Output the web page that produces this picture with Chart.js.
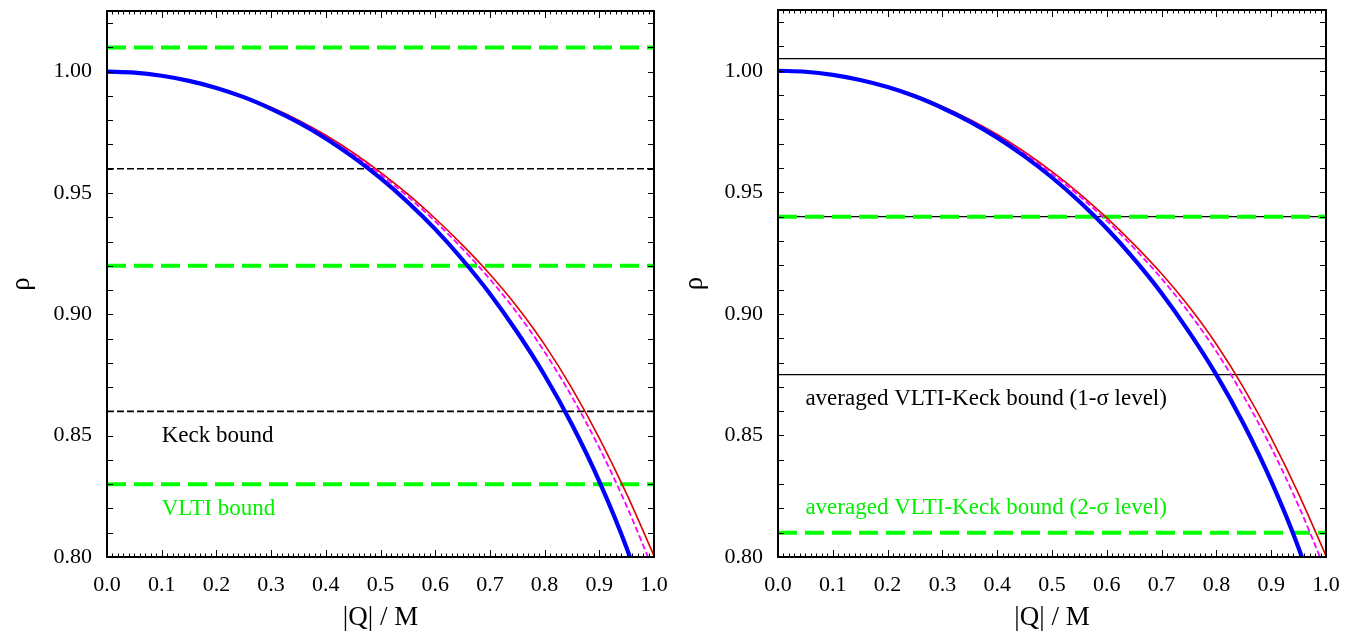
<!DOCTYPE html>
<html>
<head>
<meta charset="utf-8">
<script src="https://cdn.jsdelivr.net/npm/chart.js@4.4.1/dist/chart.umd.min.js"></script>
<style>
  html, body { margin: 0; padding: 0; background: #fff; }
  #wrap { position: relative; width: 1356px; height: 631px; }
  .panel { position: absolute; top: 0; width: 678px; height: 631px; }
</style>
</head>
<body>
<div id="wrap">
  <div class="panel" style="left:0"><canvas id="leftChart" width="678" height="631"></canvas></div>
  <div class="panel" style="left:678px"><canvas id="rightChart" width="678" height="631"></canvas></div>
</div>
<script>
// ── data ──────────────────────────────────────────────────────────
const qValues   = [0, 0.05, 0.1, 0.15, 0.2, 0.25, 0.3, 0.35, 0.4, 0.45, 0.5,
                   0.55, 0.6, 0.65, 0.7, 0.75, 0.8, 0.85, 0.9, 0.95, 1.0];
const rhoBlue   = [1.0000, 0.9996, 0.9983, 0.9962, 0.9933, 0.9895, 0.9847, 0.9791, 0.9725, 0.9648, 0.9561,
                   0.9462, 0.9351, 0.9225, 0.9085, 0.8926, 0.8749, 0.8546, 0.8312, 0.8037, 0.7698];
const rhoRed    = [1.0000, 0.9996, 0.9983, 0.9963, 0.9935, 0.9899, 0.9853, 0.9800, 0.9738, 0.9666, 0.9585,
                   0.9495, 0.9395, 0.9285, 0.9165, 0.9030, 0.8875, 0.8695, 0.8490, 0.8260, 0.8005];
const rhoMagenta= [1.0000, 0.9996, 0.9983, 0.9962, 0.9934, 0.9897, 0.9850, 0.9796, 0.9732, 0.9659, 0.9577,
                   0.9485, 0.9383, 0.9270, 0.9145, 0.9005, 0.8845, 0.8660, 0.8450, 0.8210, 0.7940];

const xTicks = [0, 0.1, 0.2, 0.3, 0.4, 0.5, 0.6, 0.7, 0.8, 0.9, 1.0];
const yTicks = [0.80, 0.85, 0.90, 0.95, 1.00];
const yMin = 0.80, yMax = 1.025;

// left panel bounds
const leftGreen  = [1.01, 0.92, 0.83];
const leftBlack  = [0.96, 0.86];
const leftNotes  = [
  { text: 'Keck bound', x: 0.1, y: 0.85, color: '#000000' },
  { text: 'VLTI bound', x: 0.1, y: 0.82, color: '#00f000' }
];

// right panel bounds
const rightGreen = [0.94, 0.81];
const rightBlack = [1.005, 0.94, 0.875];
const rightNotes = [
  { text: 'averaged VLTI-Keck bound (1-\u03c3 level)', x: 0.05, y: 0.865, color: '#000000' },
  { text: 'averaged VLTI-Keck bound (2-\u03c3 level)', x: 0.05, y: 0.82, color: '#00f000' }
];

const SERIF = "'Liberation Serif', 'DejaVu Serif', serif";
const GREEN = '#00ff00';

// ══════════════════════════════════════════════════════════════════
//  helpers
// ══════════════════════════════════════════════════════════════════
function curve(values, color, width, dash, order) {
  return {
    data: qValues.map((q, i) => ({ x: q, y: values[i] })),
    borderColor: color,
    borderWidth: width,
    borderDash: dash,
    pointRadius: 0,
    cubicInterpolationMode: 'monotone',
    clip: 0,
    order: order
  };
}

function hline(v, color, width, dash, order) {
  return {
    data: [{ x: 0, y: v }, { x: 1, y: v }],
    borderColor: color,
    borderWidth: width,
    borderDash: dash,
    pointRadius: 0,
    order: order
  };
}

// inward ticks on all four sides, the box, and the text notes
const framePlugin = {
  id: 'frame',
  afterDatasetsDraw(chart, args, opts) {
    const { ctx, chartArea: a, scales: { x, y } } = chart;
    ctx.save();
    ctx.strokeStyle = '#000';
    ctx.lineWidth = 1;
    ctx.beginPath();
    for (let i = 0; i <= 100; i++) {
      const px = Math.round(x.getPixelForValue(i / 100)) + 0.5;
      const len = i % 10 === 0 ? 7 : 3.5;
      ctx.moveTo(px, a.bottom); ctx.lineTo(px, a.bottom - len);
      ctx.moveTo(px, a.top);    ctx.lineTo(px, a.top + len);
    }
    for (let i = 80; i <= 102; i++) {
      const py = Math.round(y.getPixelForValue(i / 100)) + 0.5;
      ctx.moveTo(a.left, py);  ctx.lineTo(a.left + 6, py);
      ctx.moveTo(a.right, py); ctx.lineTo(a.right - 6, py);
    }
    ctx.stroke();
    ctx.lineWidth = 2;
    ctx.strokeRect(a.left, a.top, a.right - a.left, a.bottom - a.top);

    ctx.font = '23px ' + SERIF;
    ctx.textBaseline = 'middle';
    ctx.textAlign = 'left';
    (opts.notes || []).forEach(n => {
      ctx.fillStyle = n.color;
      ctx.fillText(n.text, x.getPixelForValue(n.x), y.getPixelForValue(n.y));
    });
    ctx.restore();
  }
};

function makeChart(id, datasets, notes, pad, yWidth, yTitlePad) {
  const ctx = document.getElementById(id).getContext('2d');
  return new Chart(ctx, {
    type: 'line',
    data: { datasets },
    options: {
      responsive: false,
      animation: false,
      events: [],
      layout: { padding: pad },
      plugins: {
        legend: { display: false },
        tooltip: { enabled: false },
        frame: { notes }
      },
      scales: {
        x: {
          type: 'linear', min: 0, max: 1,
          grid: { display: false, drawTicks: false },
          border: { display: false },
          afterBuildTicks: s => { s.ticks = xTicks.map(v => ({ value: v })); },
          afterFit: s => { s.height = 74; s.paddingLeft = 0; s.paddingRight = 0; },
          ticks: {
            padding: 15, color: '#000',
            font: { family: SERIF, size: 22 },
            callback: v => v.toFixed(1)
          },
          title: {
            display: true, text: '|Q| / M', color: '#000',
            font: { family: SERIF, size: 27, lineHeight: 1.0 },
            padding: { top: 0, bottom: 0 }
          }
        },
        y: {
          type: 'linear', min: yMin, max: yMax,
          grid: { display: false, drawTicks: false },
          border: { display: false },
          afterBuildTicks: s => { s.ticks = yTicks.map(v => ({ value: v })); },
          afterFit: s => { s.width = yWidth; s.paddingTop = 0; s.paddingBottom = 0; },
          ticks: {
            padding: 15, color: '#000',
            font: { family: SERIF, size: 22 },
            callback: v => v.toFixed(2)
          },
          title: {
            display: true, text: '\u03c1', color: '#000',
            font: { family: SERIF, size: 27 },
            padding: { top: yTitlePad, bottom: 0 }
          }
        }
      }
    },
    plugins: [framePlugin]
  });
}

// ══════════════════════════════════════════════════════════════════
//  build both panels
// ══════════════════════════════════════════════════════════════════
const curves = [
  curve(rhoBlue, '#0000ff', 4.2, [], 0),
  curve(rhoMagenta, '#ff00ff', 1.8, [6, 3], 1),
  curve(rhoRed, '#e00000', 1.6, [], 2)
];

const leftSets = curves
  .concat(leftGreen.map(v => hline(v, GREEN, 4, [19, 8], 4)))
  .concat(leftBlack.map(v => hline(v, '#000000', 1.6, [7, 3], 5)));

const rightSets = curves.map(d => Object.assign({}, d))
  .concat(rightGreen.map(v => hline(v, GREEN, 4, [19, 8], 4)))
  .concat(rightBlack.map(v => hline(v, '#000000', 1.3, [], 5)));

makeChart('leftChart',  leftSets,  leftNotes,  { left: 0, top: 11, right: 24, bottom: 0 }, 107, 6);
makeChart('rightChart', rightSets, rightNotes, { left: 0, top: 10, right: 30, bottom: 0 }, 100, 1);
</script>
</body>
</html>
